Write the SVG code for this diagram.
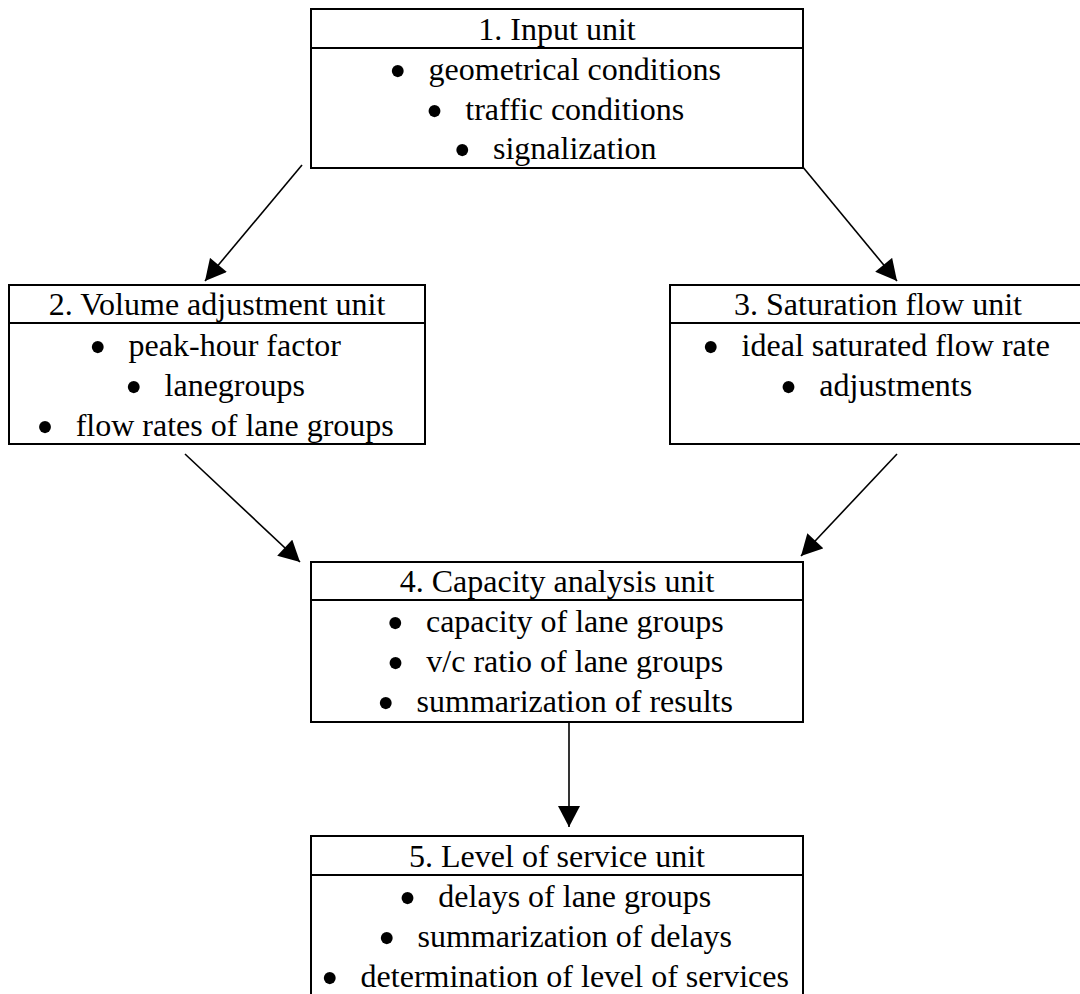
<svg xmlns="http://www.w3.org/2000/svg" width="1080" height="994" viewBox="0 0 1080 994">
<style>
.box{fill:#fff;stroke:#000;stroke-width:2}
.div{stroke:#000;stroke-width:2}
.t{font-family:"Liberation Serif","Times New Roman",serif;font-size:32px;fill:#000;text-anchor:middle}
.b{font-size:50px}
.c{stroke:#000;stroke-width:1.6;fill:none;marker-end:url(#ah)}
</style>
<defs>
<marker id="ah" markerUnits="userSpaceOnUse" markerWidth="22" markerHeight="22" viewBox="0 0 20 21" refX="20" refY="10.5" orient="auto">
<path d="M0,0 L20,10.5 L0,21 Z" fill="#000"/>
</marker>
</defs>
<rect width="1080" height="994" fill="#fff"/>
<g id="connectors">
<line class="c" x1="302" y1="165" x2="205" y2="281"/>
<line class="c" x1="802" y1="166" x2="897" y2="281"/>
<line class="c" x1="185" y1="454" x2="300" y2="562"/>
<line class="c" x1="897" y1="454" x2="801" y2="556"/>
<line class="c" x1="569" y1="723" x2="569" y2="827"/>
</g>
<g id="node1">
<rect class="box" x="311" y="9" width="492" height="159"/>
<line class="div" x1="311" y1="48" x2="803" y2="48"/>
<text class="t" x="557" y="40">1. Input unit</text>
<text class="t" x="555" y="80"><tspan class="b" dy="8">•</tspan><tspan dx="22" dy="-8">geometrical conditions</tspan></text>
<text class="t" x="555" y="120"><tspan class="b" dy="8">•</tspan><tspan dx="22" dy="-8">traffic conditions</tspan></text>
<text class="t" x="555" y="159"><tspan class="b" dy="8">•</tspan><tspan dx="22" dy="-8">signalization</tspan></text>
</g>
<g id="node2">
<rect class="box" x="9" y="285" width="416" height="159"/>
<line class="div" x1="9" y1="323" x2="425" y2="323"/>
<text class="t" x="217" y="315">2. Volume adjustment unit</text>
<text class="t" x="215" y="356"><tspan class="b" dy="8">•</tspan><tspan dx="22" dy="-8">peak-hour factor</tspan></text>
<text class="t" x="215" y="396"><tspan class="b" dy="8">•</tspan><tspan dx="22" dy="-8">lanegroups</tspan></text>
<text class="t" x="215" y="436"><tspan class="b" dy="8">•</tspan><tspan dx="22" dy="-8">flow rates of lane groups</tspan></text>
</g>
<g id="node3">
<rect class="box" x="670" y="285" width="417" height="159"/>
<line class="div" x1="670" y1="323" x2="1087" y2="323"/>
<text class="t" x="878" y="315">3. Saturation flow unit</text>
<text class="t" x="876" y="356"><tspan class="b" dy="8">•</tspan><tspan dx="22" dy="-8">ideal saturated flow rate</tspan></text>
<text class="t" x="876" y="396"><tspan class="b" dy="8">•</tspan><tspan dx="22" dy="-8">adjustments</tspan></text>
</g>
<g id="node4">
<rect class="box" x="311" y="562" width="492" height="160"/>
<line class="div" x1="311" y1="600" x2="803" y2="600"/>
<text class="t" x="557" y="592">4. Capacity analysis unit</text>
<text class="t" x="555" y="632"><tspan class="b" dy="8">•</tspan><tspan dx="22" dy="-8">capacity of lane groups</tspan></text>
<text class="t" x="555" y="672"><tspan class="b" dy="8">•</tspan><tspan dx="22" dy="-8">v/c ratio of lane groups</tspan></text>
<text class="t" x="555" y="712"><tspan class="b" dy="8">•</tspan><tspan dx="22" dy="-8">summarization of results</tspan></text>
</g>
<g id="node5">
<rect class="box" x="311" y="836" width="492" height="170"/>
<line class="div" x1="311" y1="875" x2="803" y2="875"/>
<text class="t" x="557" y="867">5. Level of service unit</text>
<text class="t" x="555" y="907"><tspan class="b" dy="8">•</tspan><tspan dx="22" dy="-8">delays of lane groups</tspan></text>
<text class="t" x="555" y="947"><tspan class="b" dy="8">•</tspan><tspan dx="22" dy="-8">summarization of delays</tspan></text>
<text class="t" x="555" y="987"><tspan class="b" dy="8">•</tspan><tspan dx="22" dy="-8">determination of level of services</tspan></text>
</g>
</svg>
